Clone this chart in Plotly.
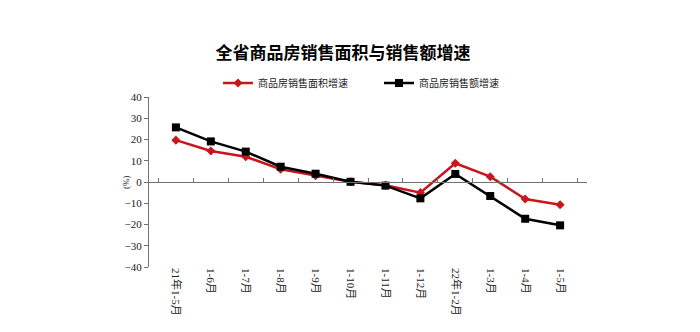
import plotly.graph_objects as go

categories = ["21年1-5月", "1-6月", "1-7月", "1-8月", "1-9月", "1-10月",
              "1-11月", "1-12月", "22年1-2月", "1-3月", "1-4月", "1-5月"]
area_growth = [19.7, 14.6, 11.9, 6.0, 3.0, 0.1, -1.5, -5.0, 8.8, 2.5, -8.0, -10.7]
sales_growth = [25.7, 19.1, 14.3, 7.2, 3.9, 0.1, -1.7, -7.7, 3.8, -6.6, -17.3, -20.4]
y_ticks = [40, 30, 20, 10, 0, -10, -20, -30, -40]

series_names = ["商品房销售面积增速", "商品房销售额增速"]
RED = "#C8161D"
BLACK = "#000000"
CJK = "Liberation Serif, Noto Sans CJK SC"

fig = go.Figure()
fig.add_trace(go.Scatter(
    x=categories, y=area_growth, name=series_names[0], mode="lines+markers",
    line=dict(color=RED, width=2.5),
    marker=dict(symbol="diamond", size=7, color=RED),
))
fig.add_trace(go.Scatter(
    x=categories, y=sales_growth, name=series_names[1], mode="lines+markers",
    line=dict(color=BLACK, width=2.5),
    marker=dict(symbol="square", size=8, color=BLACK),
))
# invisible trace to render the zero-crossing axis
fig.add_trace(go.Scatter(
    x=categories, y=[0] * len(categories), xaxis="x2", mode="markers",
    marker=dict(opacity=0), showlegend=False, hoverinfo="skip",
))

fig.update_layout(
    width=700, height=332,
    margin=dict(l=149, r=113, t=97, b=65),
    paper_bgcolor="white", plot_bgcolor="white",
    showlegend=True,
    title=dict(text="<b>全省商品房销售面积与销售额增速</b>",
               x=343 / 700, xanchor="center", y=1 - 53 / 332, yanchor="middle",
               font=dict(family="Noto Sans CJK SC", size=17, color="#000")),
    legend=dict(orientation="h", x=(218 - 149) / 438, xanchor="left",
                y=1 + (97 - 83) / 170, yanchor="middle",
                font=dict(family="Noto Sans CJK SC", size=10, color="#222"),
                entrywidth=116, entrywidthmode="pixels",
                bgcolor="rgba(0,0,0,0)", itemwidth=30),
    xaxis=dict(type="category", showline=False, showgrid=False, zeroline=False,
               ticks="", tickangle=90,
               tickfont=dict(family=CJK, size=11, color="#222")),
    xaxis2=dict(type="category", matches="x", overlaying="x", anchor="free",
                position=0.5, side="bottom", showline=True, linecolor="#707070",
                linewidth=1, showgrid=False, zeroline=False,
                ticks="inside", ticklen=4, tickcolor="#707070",
                tickson="boundaries", showticklabels=False),
    yaxis=dict(range=[-40, 40], tickvals=y_ticks, showline=True,
               linecolor="#707070", linewidth=1, showgrid=False, zeroline=False,
               ticks="outside", ticklen=4, tickcolor="#707070",
               tickfont=dict(family=CJK, size=11, color="#222")),
    annotations=[dict(text="(%)", x=-30 / 438, y=0.5, xref="paper", yref="paper",
                      textangle=-90, showarrow=False,
                      font=dict(family=CJK, size=9, color="#222"))],
)

fig.write_html("out.html")
